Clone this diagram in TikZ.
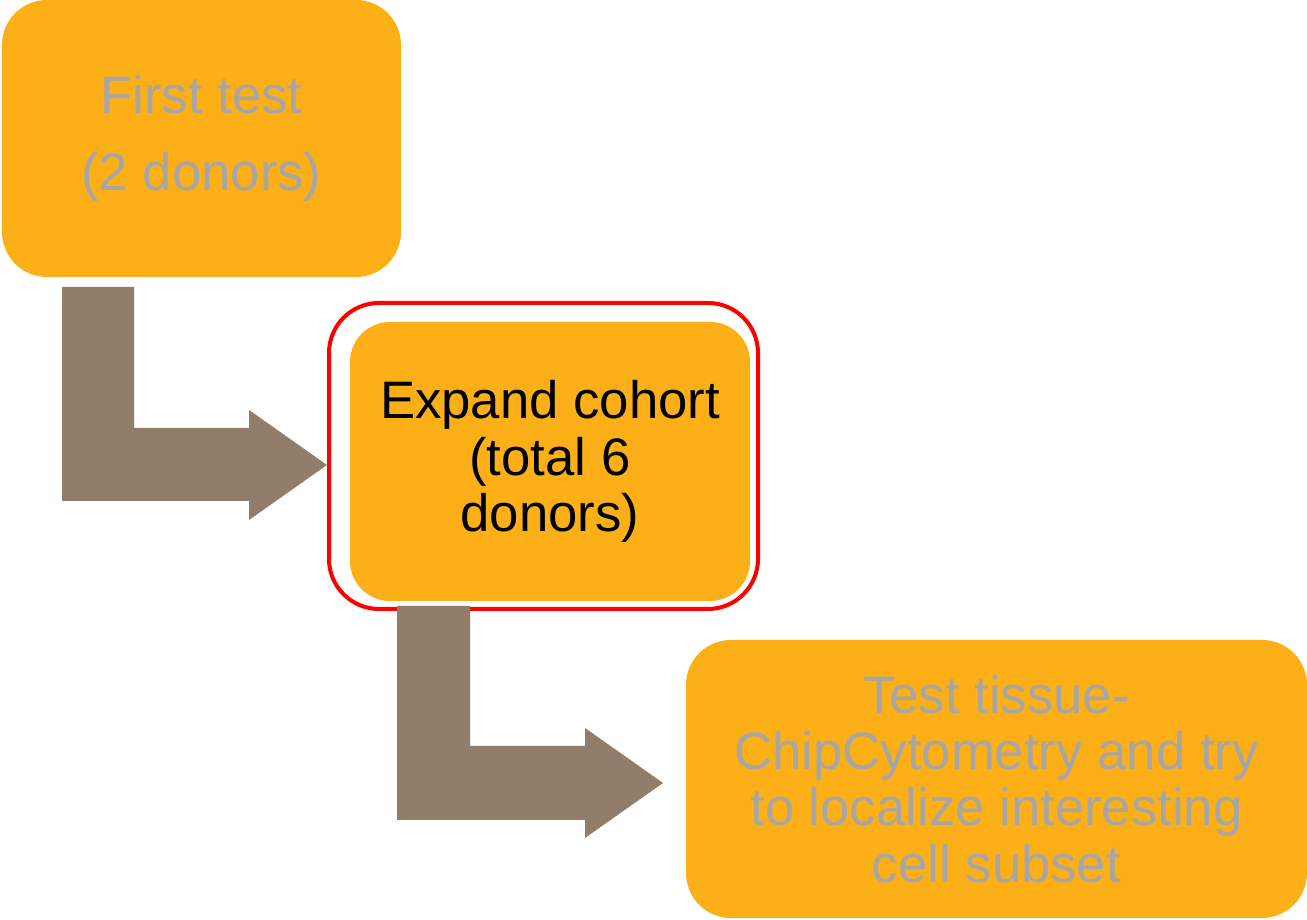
\documentclass[tikz,border=0pt]{standalone}
\usepackage{fontspec}
\setmainfont{Liberation Sans}
\definecolor{stepfill}{RGB}{252,175,23}
\definecolor{bentfill}{RGB}{146,125,106}
\definecolor{greytext}{RGB}{166,166,166}
\tikzset{
  stepbox/.style={fill=stepfill, rounded corners=0.9cm, inner sep=0pt, align=center,
                  font=\fontsize{30}{32}\selectfont},
  bentarrow/.style={fill=bentfill, draw=none}
}
\begin{document}
\begin{tikzpicture}
                        \useasboundingbox (0,0) rectangle (26.140000,18.400000);

                        % Drawing box first test
                        \node [stepbox, minimum width=7.980000cm, minimum height=5.540000cm,
                               text=greytext, font=\fontsize{30}{44}\selectfont]
                              (first) at (4.030000,15.630000) {First test\\(2 donors)};%

                        % Drawing bent arrow first -> expand
                        \draw [bentarrow] (1.240000,12.660000) -- (2.680000,12.660000) -- (2.680000,9.840000)
                              -- (4.980000,9.840000) -- (4.980000,10.200000) -- (6.540000,9.100000)
                              -- (4.980000,8.000000) -- (4.980000,8.380000) -- (1.240000,8.380000) -- cycle;%

                        % Marking current step by red frame
                        \node [draw=red, line width=0.080000cm, rounded corners=1.000000cm, inner sep=0pt,
                               minimum width=8.580000cm, minimum height=6.120000cm]
                              (frame) at (10.870000,9.280000) {};%

                        % Drawing box expand cohort
                        \node [stepbox, rounded corners=0.800000cm, minimum width=8.000000cm,
                               minimum height=5.580000cm, text=black]
                              (expand) at (11.000000,9.170000) {Expand cohort\\(total 6\\donors)};%

                        % Drawing bent arrow expand -> tissue
                        \draw [bentarrow] (7.940000,6.280000) -- (9.400000,6.280000) -- (9.400000,3.480000)
                              -- (11.700000,3.480000) -- (11.700000,3.840000) -- (13.260000,2.740000)
                              -- (11.700000,1.640000) -- (11.700000,2.000000) -- (7.940000,2.000000) -- cycle;%

                        % Drawing box test tissue
                        \node [stepbox, minimum width=12.420000cm, minimum height=5.560000cm, text=greytext]
                              (tissue) at (19.930000,2.820000)
                              {Test tissue-\\ChipCytometry and try\\to localize interesting\\cell subset};%
\end{tikzpicture}
\end{document}
